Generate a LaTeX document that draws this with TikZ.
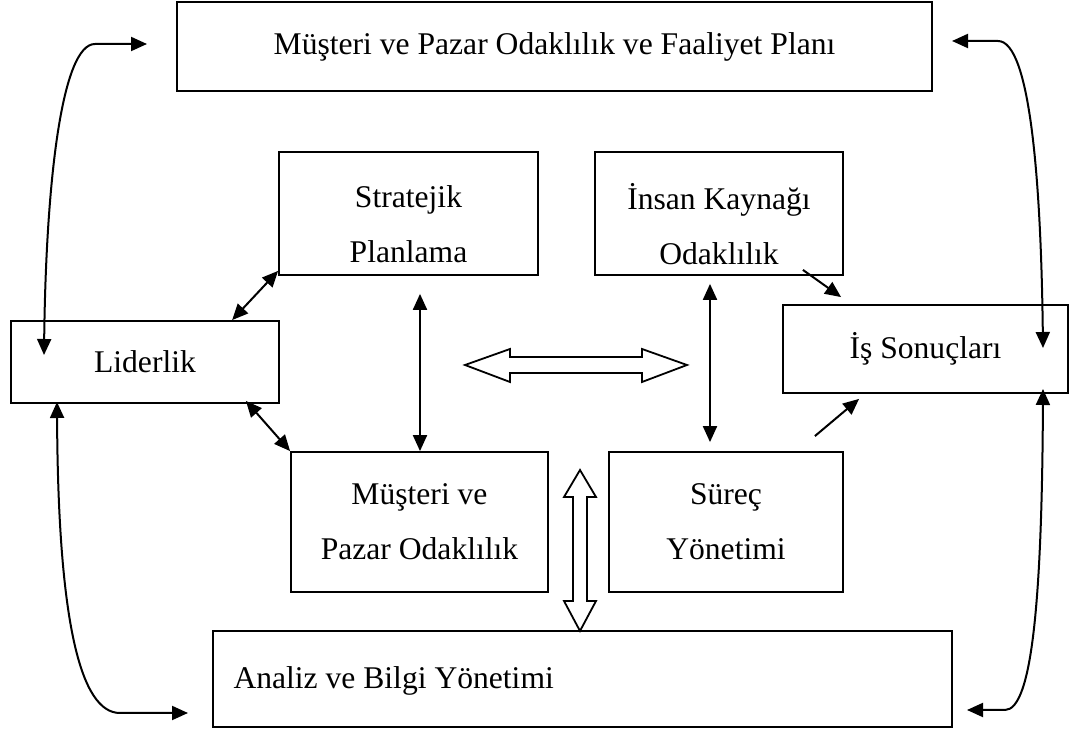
\documentclass[tikz,border=0pt]{standalone}
\usepackage{fontspec}
\setmainfont{Liberation Serif}
\usetikzlibrary{arrows.meta,calc}
\newcommand{\bodyfont}{\fontsize{15.8}{27.5}\selectfont}
\begin{document}
\begin{tikzpicture}[x=0.5pt,y=-0.5pt,
  box/.style={draw, line width=0.9pt, inner sep=0pt, align=center, font=\bodyfont},
  lbl/.style={align=center, font=\bodyfont, yshift=-5.5pt, inner sep=0pt},
  leftlbl/.style={anchor=west, font=\bodyfont, xshift=10.5pt, yshift=-1pt, inner sep=0pt},
  both/.style={line width=1pt, {Triangle[length=8pt,width=7pt]}-{Triangle[length=8pt,width=7pt]}},
  one/.style={line width=1pt, -{Triangle[length=8pt,width=7pt]}},
  hollow/.style={draw, line width=0.9pt, fill=white, line join=miter}]
\useasboundingbox (0,0) rectangle (1072,731);

% boxes
\node[box, minimum width=377.5pt, minimum height=44.5pt] (top) at (554.5,46.5)
  {Müşteri ve Pazar Odaklılık ve Faaliyet Planı};
\node[box, minimum width=129.5pt, minimum height=61.5pt,
  label={[lbl]center:Stratejik\\Planlama}] (strat) at (408.5,213.5) {};
\node[box, minimum width=124pt, minimum height=61.5pt,
  label={[lbl]center:İnsan Kaynağı\\Odaklılık}] (insan) at (719,213.5) {};
\node[box, minimum width=134pt, minimum height=41pt] (lider) at (145,362) {Liderlik};
\node[box, minimum width=142.5pt, minimum height=44pt] (is) at (925.5,349) {İş Sonuçları};
\node[box, minimum width=128.5pt, minimum height=70pt] (must) at (419.5,522) {Müşteri ve\\Pazar Odaklılık};
\node[box, minimum width=117pt, minimum height=70pt] (surec) at (726,522) {Süreç\\Yönetimi};
\node[box, minimum width=369.5pt, minimum height=48pt,
  label={[leftlbl]west:Analiz ve Bilgi Yönetimi}] (analiz) at (582.5,679) {};

% free ends
\coordinate (tlA) at (147,44);  \coordinate (tlB) at (44,355);
\coordinate (trA) at (952,41);  \coordinate (trB) at (1043,348);
\coordinate (blA) at (57,402);  \coordinate (blB) at (188,713);
\coordinate (brA) at (1043,389);\coordinate (brB) at (967,710);

% outer curved connectors
\draw[both] (tlA) -- (95,44) .. controls (62,44) and (46,180) .. (tlB);
\draw[both] (trA) -- (998,41) .. controls (1030,41) and (1041,180) .. (trB);
\draw[both] (blA) .. controls (58,620) and (80,713) .. (120,713) -- (blB);
\draw[both] (brA) .. controls (1042,600) and (1032,710) .. (1005,710) -- (brB);

% inner connectors
\draw[both] ($(lider.north west)+(222,0)$) -- ($(strat.south west)+(0,-5)$);
\draw[both] ($(lider.south east)+(-34,-3)$) -- (must.north west);
\draw[both] ($(must.north)+(0.5,0)$) -- ($(strat.south)+(11.5,18)$);
\draw[both] ($(insan.south)+(-9,8)$) -- ($(surec.north)+(-16,-9)$);
\draw[one] ($(insan.south east)+(-41,-6)$) -- ($(is.north west)+(59,-7)$);
\draw[one] ($(surec.north east)+(-29,-15)$) -- ($(is.south west)+(77,5)$);

% hollow double arrows
\draw[hollow] (465,365) -- (510,349) -- (510,357) -- (642,357) -- (642,349) -- (687,365)
  -- (642,382) -- (642,373) -- (510,373) -- (510,382) -- cycle;
\draw[hollow] (580,470) -- (596,497) -- (587,497) -- (587,601) -- (596,601) -- (580,631)
  -- (564,601) -- (573,601) -- (573,497) -- (564,497) -- cycle;
\end{tikzpicture}
\end{document}
